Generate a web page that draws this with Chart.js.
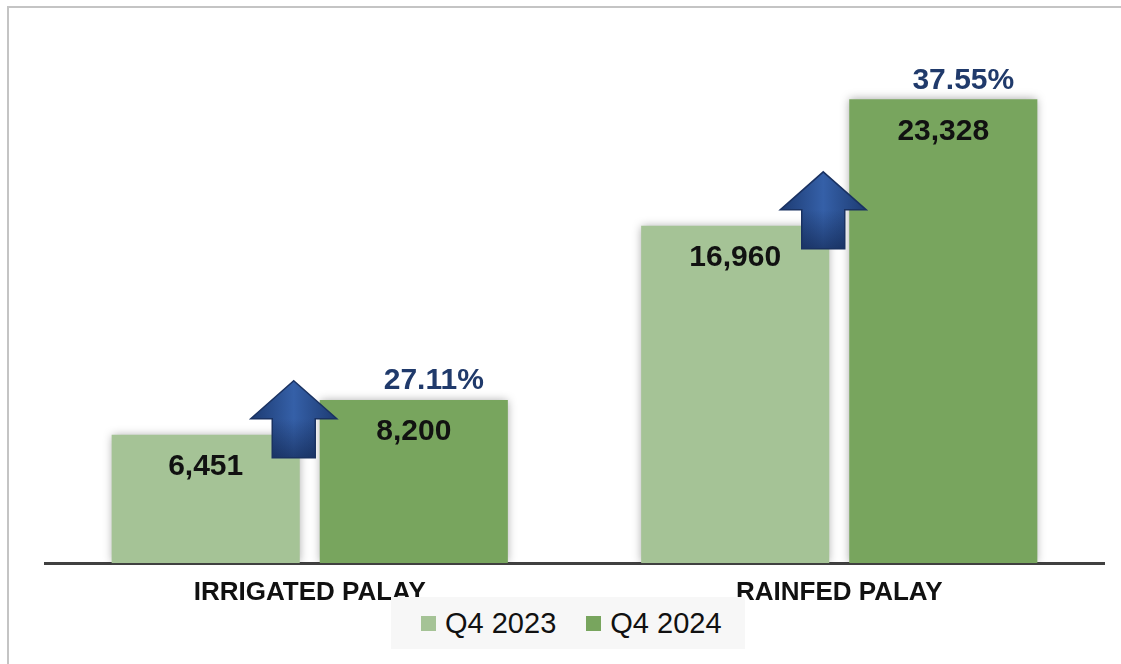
<!DOCTYPE html>
<html>
<head>
<meta charset="utf-8">
<script src="https://cdn.jsdelivr.net/npm/chart.js@4.4.0/dist/chart.umd.min.js"></script>
<style>
  html, body { margin: 0; padding: 0; background: #fff; overflow: hidden; }
  #wrap { position: relative; width: 1121px; height: 664px; overflow: hidden; }
  #frame { position: absolute; left: 7px; top: 6px; width: 1112px; height: 656px;
           border-top: 2px solid #c4c4c4; border-left: 2px solid #c4c4c4; }
  canvas { display: block; position: absolute; left: 0; top: 0; }
  #legend { position: absolute; left: 391px; top: 597px; width: 354px; height: 52px;
            background: #f7f7f7; display: flex; align-items: center;
            font-family: "Liberation Sans", Arial, sans-serif; font-size: 29px; color: #111; }
  .item { display: flex; align-items: center; margin-left: 30px; }
  .box { width: 15px; height: 15px; margin-right: 9px; }
</style>
</head>
<body>
<div id="wrap">
  <div id="frame"></div>
  <canvas id="chart" width="1121" height="664"></canvas>
  <div id="legend"></div>
</div>
<script>
// data
const categories = ["IRRIGATED PALAY", "RAINFED PALAY"];
const seriesNames = ["Q4 2023", "Q4 2024"];
const q4_2023 = [6451, 16960];
const q4_2024 = [8200, 23328];
const growthLabels = ["27.11%", "37.55%"];
const colors = ["#a5c396", "#78a55e"];

const FONT = "'Liberation Sans', Arial, sans-serif";

// soft shadow around the bars
const barShadow = {
  id: "barShadow",
  beforeDatasetsDraw(chart) {
    const ctx = chart.ctx;
    ctx.save();
    ctx.shadowColor = "rgba(0,0,0,0.35)";
    ctx.shadowBlur = 9;
  },
  afterDatasetsDraw(chart) {
    chart.ctx.restore();
  }
};

function drawArrow(ctx, cx, bottom) {
  const headW = 86, shaftW = 43, headH = 38, total = 77;
  const top = bottom - total;
  const baseY = top + headH;
  ctx.save();
  ctx.beginPath();
  ctx.moveTo(cx, top);
  ctx.lineTo(cx + headW / 2, baseY);
  ctx.lineTo(cx + shaftW / 2, baseY);
  ctx.lineTo(cx + shaftW / 2, bottom);
  ctx.lineTo(cx - shaftW / 2, bottom);
  ctx.lineTo(cx - shaftW / 2, baseY);
  ctx.lineTo(cx - headW / 2, baseY);
  ctx.closePath();
  const g = ctx.createLinearGradient(cx - headW / 2, 0, cx + headW / 2, 0);
  g.addColorStop(0, "#1d3b72");
  g.addColorStop(0.5, "#3560a8");
  g.addColorStop(1, "#1d3b72");
  ctx.fillStyle = g;
  ctx.fill();
  // darker towards the bottom of the shaft
  const v = ctx.createLinearGradient(0, baseY, 0, bottom);
  v.addColorStop(0, "rgba(10,25,60,0)");
  v.addColorStop(1, "rgba(10,25,60,0.5)");
  ctx.fillStyle = v;
  ctx.fill();
  ctx.lineWidth = 1.5;
  ctx.strokeStyle = "#1a3262";
  ctx.stroke();
  ctx.restore();
}

// value labels, growth labels and arrows
const labelPlugin = {
  id: "labelPlugin",
  afterDatasetsDraw(chart) {
    const ctx = chart.ctx;
    const xs = chart.scales.x, ys = chart.scales.y;
    ctx.save();
    ctx.textAlign = "center";
    ctx.textBaseline = "middle";
    ctx.font = "bold 30px " + FONT;
    ctx.fillStyle = "#111";
    chart.data.datasets.forEach((ds, i) => {
      chart.getDatasetMeta(i).data.forEach((bar, j) => {
        ctx.fillText(ds.data[j].toLocaleString("en-US"), bar.x, bar.y + 32);
      });
    });
    ctx.fillStyle = "#203a6b";
    chart.getDatasetMeta(1).data.forEach((bar, j) => {
      ctx.fillText(growthLabels[j], bar.x + 20, bar.y - 19);
    });
    ctx.restore();
    categories.forEach((c, j) => {
      drawArrow(ctx, xs.getPixelForValue(j) - 16, ys.getPixelForValue(q4_2023[j]) + 23);
    });
  }
};

new Chart(document.getElementById("chart"), {
  type: "bar",
  data: {
    labels: categories,
    datasets: [
      { label: seriesNames[0], data: q4_2023, backgroundColor: colors[0] },
      { label: seriesNames[1], data: q4_2024, backgroundColor: colors[1] }
    ]
  },
  options: {
    responsive: false,
    animation: false,
    layout: { padding: { left: 45, right: 17, top: 66, bottom: 0 } },
    datasets: { bar: { categoryPercentage: 0.786, barPercentage: 0.904 } },
    plugins: { legend: { display: false }, tooltip: { enabled: false } },
    scales: {
      x: {
        grid: { display: false, drawTicks: false },
        border: { display: true, color: "#404040", width: 3 },
        ticks: { color: "#111", padding: 14, font: { family: FONT, size: 26, weight: "bold" } },
        afterFit(scale) { scale.height = 101; }
      },
      y: { display: false, min: 0, max: 25000 }
    }
  },
  plugins: [barShadow, labelPlugin]
});

// legend
const legend = document.getElementById("legend");
seriesNames.forEach((name, i) => {
  const item = document.createElement("div");
  item.className = "item";
  const box = document.createElement("span");
  box.className = "box";
  box.style.background = colors[i];
  const txt = document.createElement("span");
  txt.textContent = name;
  item.appendChild(box);
  item.appendChild(txt);
  legend.appendChild(item);
});
</script>
</body>
</html>
